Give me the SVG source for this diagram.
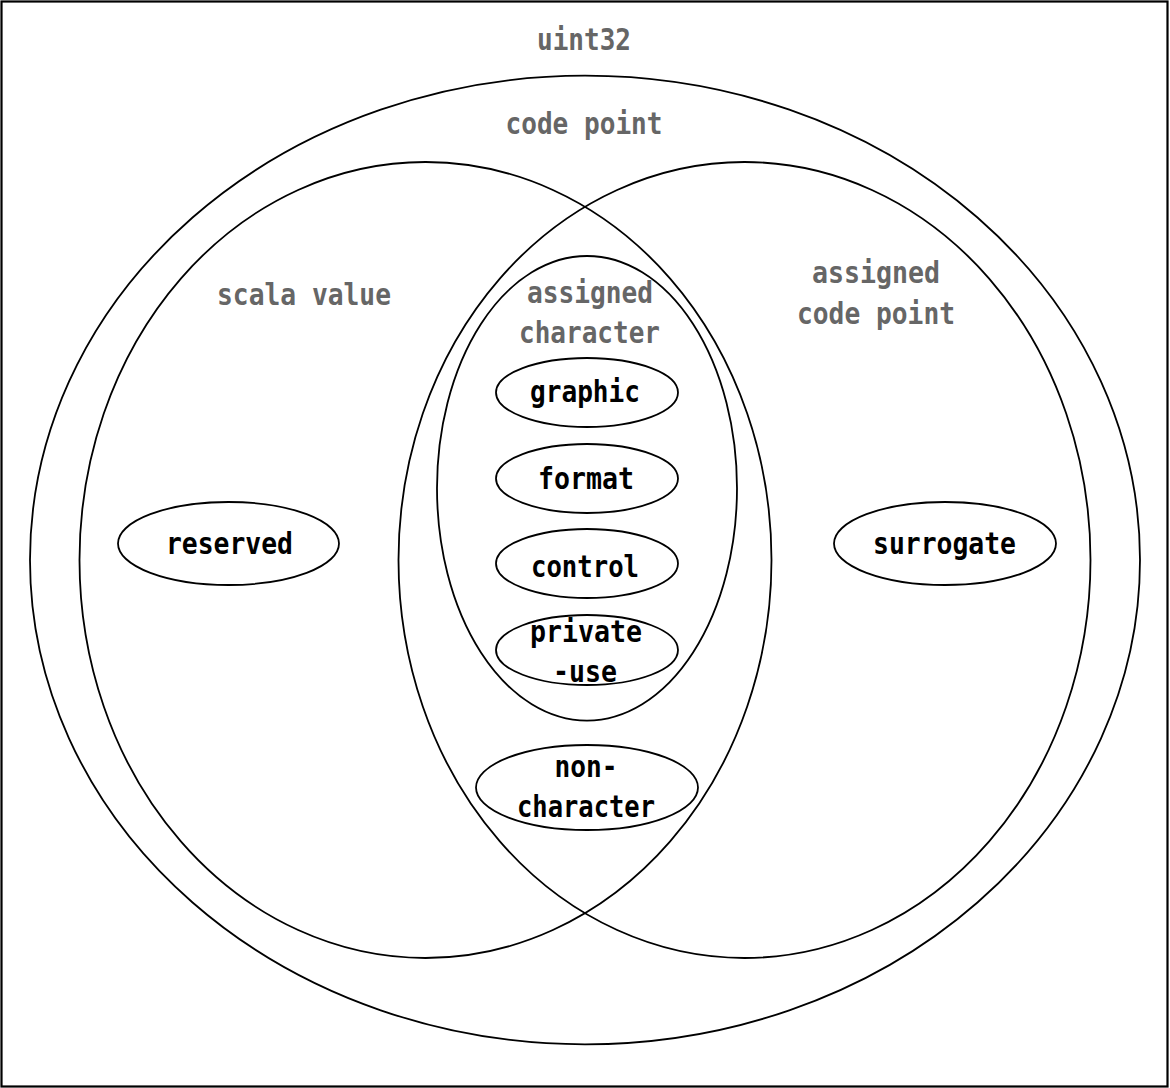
<svg xmlns="http://www.w3.org/2000/svg" width="1170" height="1088" viewBox="0 0 1170 1088">
<style>
.set{fill:none;stroke:#000;stroke-width:1.8}
.node{fill:#fff;stroke:#000;stroke-width:1.8}
.t{font-family:"DejaVu Sans Mono","Liberation Mono",monospace;font-weight:bold;font-size:30px;text-anchor:middle}
.g{fill:#666666}
.b{fill:#000}
</style>
<rect x="0" y="0" width="1170" height="1088" fill="#fff"/>
<rect x="1.5" y="1.5" width="1166" height="1085" fill="none" stroke="#000" stroke-width="2.2"/>
<g id="uint32">
<text class="t g" x="584" y="50" textLength="94" lengthAdjust="spacingAndGlyphs">uint32</text>
</g>
<g id="code-point">
<ellipse class="set" cx="585" cy="560" rx="555" ry="484.3"/>
<text class="t g" x="584" y="134" textLength="157" lengthAdjust="spacingAndGlyphs">code point</text>
</g>
<g id="scala-value">
<ellipse class="set" cx="425.5" cy="560" rx="346" ry="398"/>
<text class="t g" x="304" y="305" textLength="174" lengthAdjust="spacingAndGlyphs">scala value</text>
</g>
<g id="assigned-code-point">
<ellipse class="set" cx="744.5" cy="560" rx="346" ry="398"/>
<text class="t g" x="876" y="283" textLength="128" lengthAdjust="spacingAndGlyphs">assigned</text>
<text class="t g" x="876" y="324" textLength="158" lengthAdjust="spacingAndGlyphs">code point</text>
</g>
<g id="assigned-character">
<ellipse class="set" cx="587" cy="488.3" rx="150" ry="232.3"/>
<text class="t g" x="590" y="303" textLength="126" lengthAdjust="spacingAndGlyphs">assigned</text>
<text class="t g" x="589.5" y="343" textLength="141" lengthAdjust="spacingAndGlyphs">character</text>
</g>
<g id="graphic">
<ellipse class="node" cx="587" cy="392.5" rx="91" ry="34.5"/>
<text class="t b" x="585" y="402" textLength="110" lengthAdjust="spacingAndGlyphs">graphic</text>
</g>
<g id="format">
<ellipse class="node" cx="587" cy="478.5" rx="91" ry="34.5"/>
<text class="t b" x="586" y="489" textLength="96" lengthAdjust="spacingAndGlyphs">format</text>
</g>
<g id="control">
<ellipse class="node" cx="587" cy="563.5" rx="91" ry="34.5"/>
<text class="t b" x="585" y="577" textLength="108" lengthAdjust="spacingAndGlyphs">control</text>
</g>
<g id="private-use">
<ellipse class="node" cx="587" cy="650" rx="91" ry="35"/>
<text class="t b" x="586" y="642" textLength="112" lengthAdjust="spacingAndGlyphs">private</text>
<text class="t b" x="585" y="682" textLength="64" lengthAdjust="spacingAndGlyphs">-use</text>
</g>
<g id="non-character">
<ellipse class="node" cx="587" cy="787.5" rx="111" ry="42.5"/>
<text class="t b" x="586" y="777" textLength="63" lengthAdjust="spacingAndGlyphs">non-</text>
<text class="t b" x="586" y="817" textLength="138" lengthAdjust="spacingAndGlyphs">character</text>
</g>
<g id="reserved">
<ellipse class="node" cx="228.5" cy="543.5" rx="110.5" ry="41.5"/>
<text class="t b" x="229.5" y="554" textLength="127" lengthAdjust="spacingAndGlyphs">reserved</text>
</g>
<g id="surrogate">
<ellipse class="node" cx="945" cy="543.5" rx="111" ry="41.5"/>
<text class="t b" x="944.5" y="554" textLength="143" lengthAdjust="spacingAndGlyphs">surrogate</text>
</g>
<g id="connectors"></g>
</svg>
